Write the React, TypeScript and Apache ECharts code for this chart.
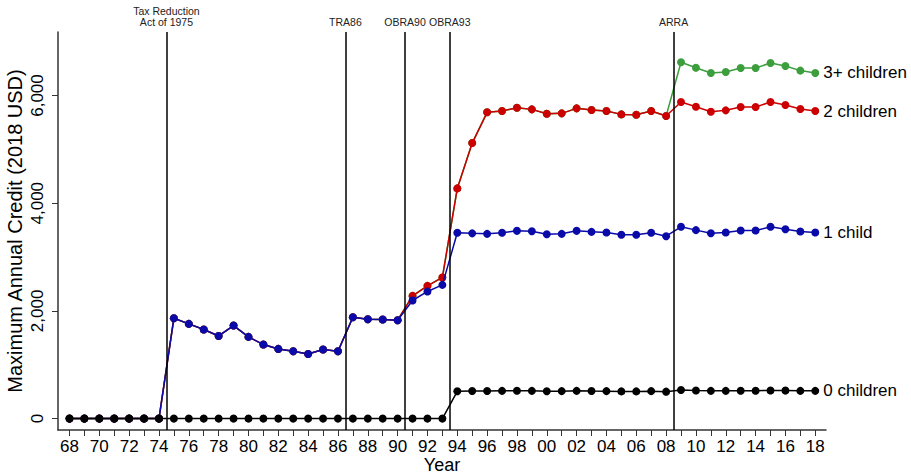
import React, { useEffect, useRef } from "react";
import * as echarts from "echarts";

const years: number[] = [
  1968, 1969, 1970, 1971, 1972, 1973, 1974, 1975, 1976, 1977, 1978, 1979, 1980,
  1981, 1982, 1983, 1984, 1985, 1986, 1987, 1988, 1989, 1990, 1991, 1992, 1993,
  1994, 1995, 1996, 1997, 1998, 1999, 2000, 2001, 2002, 2003, 2004, 2005, 2006,
  2007, 2008, 2009, 2010, 2011, 2012, 2013, 2014, 2015, 2016, 2017, 2018,
];

const zeroChildren: number[] = [
  0, 0, 0, 0, 0, 0, 0, 0, 0, 0, 0, 0, 0,
  0, 0, 0, 0, 0, 0, 0, 0, 0, 0, 0, 0, 0,
  507, 512, 512, 515, 518, 515, 508, 510, 515, 512, 510, 505, 505,
  510, 500, 530, 522, 515, 515, 518, 518, 522, 520, 515, 515,
];

const oneChild: number[] = [
  0, 0, 0, 0, 0, 0, 0, 1864, 1759, 1654, 1535, 1728, 1517,
  1375, 1294, 1251, 1201, 1282, 1251, 1883, 1846, 1840, 1827, 2193, 2361, 2483,
  3450, 3440, 3431, 3450, 3487, 3480, 3425, 3431, 3487, 3468, 3456, 3413, 3413,
  3450, 3388, 3562, 3500, 3443, 3456, 3493, 3493, 3562, 3518, 3474, 3456,
];

const twoChildren: number[] = [
  0, 0, 0, 0, 0, 0, 0, 1864, 1759, 1654, 1535, 1728, 1517,
  1375, 1294, 1251, 1201, 1282, 1251, 1883, 1846, 1840, 1827, 2279, 2465, 2621,
  4275, 5117, 5688, 5712, 5773, 5743, 5662, 5669, 5762, 5730, 5712, 5650, 5643,
  5712, 5619, 5879, 5792, 5700, 5725, 5786, 5786, 5879, 5823, 5749, 5712,
];

const threeChildren: number[] = [
  0, 0, 0, 0, 0, 0, 0, 1864, 1759, 1654, 1535, 1728, 1517,
  1375, 1294, 1251, 1201, 1282, 1251, 1883, 1846, 1840, 1827, 2279, 2465, 2621,
  4275, 5117, 5688, 5712, 5773, 5743, 5662, 5669, 5762, 5730, 5712, 5650, 5643,
  5712, 5619, 6617, 6517, 6418, 6437, 6511, 6511, 6605, 6549, 6463, 6420,
];

const seriesNames: string[] = ["3+ children", "2 children", "1 child", "0 children"];
const seriesColors: string[] = ["#3c9e3c", "#cc0000", "#0a0aa8", "#000000"];

const reformYears: number[] = [1974.5, 1986.5, 1990.5, 1993.5, 2008.5];
const reformNames: string[] = ["Tax Reduction\nAct of 1975", "TRA86", "OBRA90", "OBRA93", "ARRA"];

const xLabelYears: number[] = [
  1968, 1970, 1972, 1974, 1976, 1978, 1980, 1982, 1984, 1986, 1988, 1990, 1992,
  1994, 1996, 1998, 2000, 2002, 2004, 2006, 2008, 2010, 2012, 2014, 2016, 2018,
];
const yTicks: number[] = [0, 2000, 4000, 6000];

const FONT = "'Liberation Sans', Arial, sans-serif";

export default function App() {
  const ref = useRef<HTMLDivElement>(null);

  useEffect(() => {
    document.body.style.margin = "0";
    if (!ref.current) return;
    const chart = echarts.init(ref.current, undefined, { renderer: "svg" });

    const allSeries = [threeChildren, twoChildren, oneChild, zeroChildren];

    const series: any[] = allSeries.map((vals, i) => ({
      type: "line",
      name: seriesNames[i],
      data: years.map((y, k) => [y, vals[k]]),
      symbol: "circle",
      symbolSize: 8,
      showSymbol: true,
      color: seriesColors[i],
      lineStyle: { width: 1.5, color: seriesColors[i] },
      itemStyle: { color: seriesColors[i] },
      z: 2 + i,
      silent: true,
      emphasis: { disabled: true },
      endLabel: {
        show: true,
        formatter: seriesNames[i],
        fontSize: 17,
        color: "#000",
        fontFamily: FONT,
        distance: 8,
      },
    }));

    series[0].markLine = {
      silent: true,
      symbol: ["none", "none"],
      animation: false,
      lineStyle: { color: "#000", width: 1.5, type: "solid" },
      label: {
        show: true,
        position: "end",
        fontSize: 10.5,
        lineHeight: 11,
        color: "#222",
        fontFamily: FONT,
        distance: 5,
      },
      emphasis: { disabled: true },
      data: reformYears.map((x, i) => ({
        xAxis: x,
        label: { formatter: reformNames[i] },
      })),
    };

    chart.setOption({
      animation: false,
      textStyle: { fontFamily: FONT },
      grid: {
        left: 58,
        top: 32,
        right: 85,
        bottom: 44,
        containLabel: false,
        outerBoundsMode: "none",
      },
      xAxis: {
        type: "value",
        min: 1967.23,
        max: 2018.72,
        name: "Year",
        nameLocation: "middle",
        nameGap: 26,
        nameMoveOverlap: false,
        nameTextStyle: { fontSize: 18, color: "#000", fontFamily: FONT },
        axisLine: { show: true, onZero: false, lineStyle: { color: "#333", width: 1.5 } },
        axisTick: {
          show: true,
          length: 6,
          customValues: years,
          lineStyle: { color: "#333", width: 1 },
        },
        axisLabel: {
          customValues: xLabelYears,
          formatter: (v: number) => String(v).slice(2),
          fontSize: 17,
          color: "#000",
          margin: 8,
          fontFamily: FONT,
        },
        splitLine: { show: false },
      },
      yAxis: {
        type: "value",
        min: -212,
        max: 7180,
        name: "Maximum Annual Credit (2018 USD)",
        nameLocation: "middle",
        nameGap: 33,
        nameMoveOverlap: false,
        nameTextStyle: { fontSize: 20, color: "#000", fontFamily: FONT },
        axisLine: { show: true, onZero: false, lineStyle: { color: "#333", width: 1.5 } },
        axisTick: {
          show: true,
          length: 6,
          customValues: yTicks,
          lineStyle: { color: "#333", width: 1 },
        },
        axisLabel: {
          customValues: yTicks,
          rotate: 90,
          formatter: (v: number) => v.toLocaleString("en-US"),
          fontSize: 17,
          color: "#000",
          margin: 12,
          fontFamily: FONT,
        },
        splitLine: { show: false },
      },
      series,
    });

    return () => chart.dispose();
  }, []);

  return <div ref={ref} style={{ width: 911, height: 474 }} />;
}
